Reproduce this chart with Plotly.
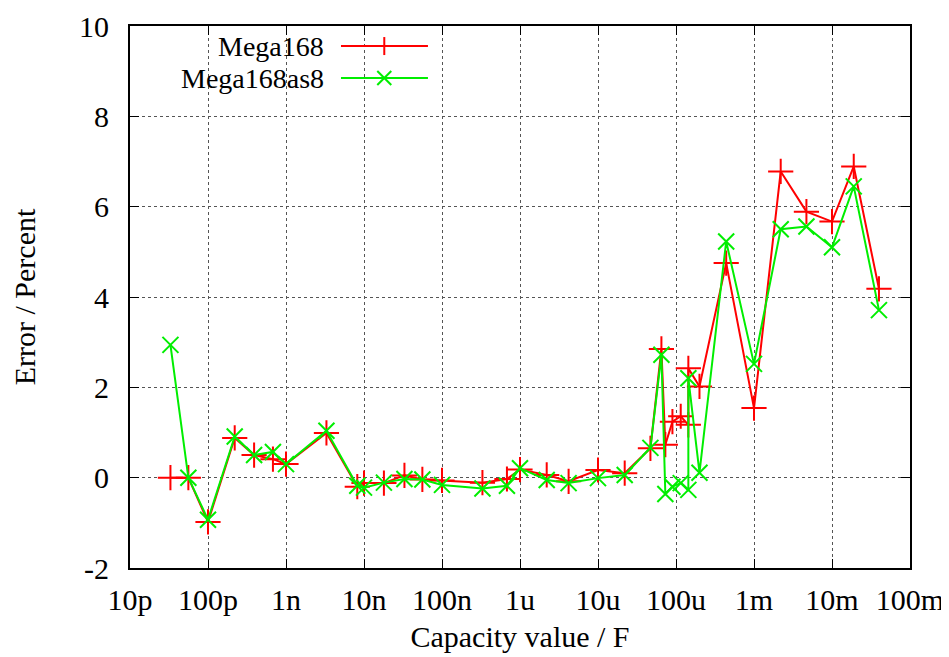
import plotly.graph_objects as go

# capacity values (F) and measured error (%)
capacity = [33e-12, 56e-12, 100e-12, 220e-12, 390e-12, 680e-12, 1e-9, 3.3e-9,
            8.2e-9, 10e-9, 18e-9, 33e-9, 56e-9, 100e-9, 330e-9, 680e-9, 1e-6,
            2.2e-6, 4.2e-6, 10e-6, 22e-6, 47e-6, 65e-6, 73e-6, 90e-6, 115e-6,
            144e-6, 144e-6, 200e-6, 440e-6, 1e-3, 2.2e-3, 4.7e-3, 10e-3, 19e-3, 40e-3]
mega168 = [0.0, 0.0, -0.98, 0.88, 0.50, 0.41, 0.30, 0.99,
           -0.20, -0.12, -0.12, 0.05, -0.04, -0.06, -0.11, -0.03, 0.18,
           0.06, -0.08, 0.17, 0.10, 0.65, 2.85, 0.73, 1.24, 1.36,
           1.17, 2.42, 2.02, 4.75, 1.54, 6.78, 5.89, 5.67, 6.89, 4.18]
mega168as8 = [2.94, 0.0, -0.93, 0.91, 0.50, 0.57, 0.30, 1.04,
              -0.18, -0.22, -0.11, -0.03, -0.04, -0.16, -0.24, -0.18, 0.21,
              -0.05, -0.12, -0.01, 0.06, 0.66, 2.72, -0.36, -0.20, -0.12,
              -0.27, 2.20, 0.11, 5.23, 2.52, 5.50, 5.56, 5.10, 6.45, 3.71]

x_tick_vals = [1e-11, 1e-10, 1e-9, 1e-8, 1e-7, 1e-6, 1e-5, 1e-4, 1e-3, 1e-2, 1e-1]
x_tick_text = ['10p', '100p', '1n', '10n', '100n', '1u', '10u', '100u', '1m', '10m', '100m']
y_tick_vals = [-2, 0, 2, 4, 6, 8, 10]
y_tick_text = ['-2', '0', '2', '4', '6', '8', '10']

RED = '#ff0000'
GREEN = '#00ee00'
FONT = 'Liberation Serif'
FSIZE = 30

fig = go.Figure()
fig.add_trace(go.Scatter(
    x=capacity, y=mega168, mode='lines+markers', name='Mega168',
    line=dict(color=RED, width=2),
    marker=dict(symbol='cross-thin-open', size=18, line=dict(color=RED, width=2))
))
fig.add_trace(go.Scatter(
    x=capacity, y=mega168as8, mode='lines+markers', name='Mega168as8',
    line=dict(color=GREEN, width=2),
    marker=dict(symbol='x-thin-open', size=16, line=dict(color=GREEN, width=2))
))

axis_common = dict(
    showline=True, linecolor='black', linewidth=2, mirror='allticks',
    ticks='inside', ticklen=9, tickwidth=1, tickcolor='black',
    showgrid=True, gridcolor='#555555', griddash='dot', gridwidth=1,
    zeroline=False, automargin=False,
    tickfont=dict(family=FONT, size=FSIZE, color='black'),
)
fig.update_xaxes(type='log', range=[-11, -1], tickvals=x_tick_vals, ticktext=x_tick_text,
                 ticklabelstandoff=4,
                 title=dict(text='Capacity value / F', font=dict(family=FONT, size=FSIZE, color='black'),
                            standoff=11),
                 **axis_common)
fig.update_yaxes(range=[-2, 10], tickvals=y_tick_vals, ticktext=y_tick_text,
                 ticklabelstandoff=13,
                 title=dict(text='Error / Percent', font=dict(family=FONT, size=FSIZE, color='black'),
                            standoff=35),
                 **axis_common)

# legend drawn like gnuplot: text right-aligned, key sample to its right
legend_rows = [('Mega168', RED, 'plus', 0.963), ('Mega168as8', GREEN, 'x', 0.904)]
shapes = []
annotations = []
px_x = 1 / 780
px_y = 1 / 542
for label, color, sym, ypos in legend_rows:
    annotations.append(dict(x=0.251, y=ypos, xref='paper', yref='paper', text=label,
                            showarrow=False, xanchor='right', yanchor='middle',
                            font=dict(family=FONT, size=28, color='black')))
    shapes.append(dict(type='line', xref='paper', yref='paper', x0=0.2705, x1=0.382,
                       y0=ypos, y1=ypos, line=dict(color=color, width=2)))
    cx = 0.326
    if sym == 'plus':
        shapes.append(dict(type='line', xref='paper', yref='paper', x0=cx, x1=cx,
                           y0=ypos - 9 * px_y, y1=ypos + 9 * px_y, line=dict(color=color, width=2)))
    else:
        d = 7
        shapes.append(dict(type='line', xref='paper', yref='paper', x0=cx - d * px_x, x1=cx + d * px_x,
                           y0=ypos - d * px_y, y1=ypos + d * px_y, line=dict(color=color, width=2)))
        shapes.append(dict(type='line', xref='paper', yref='paper', x0=cx - d * px_x, x1=cx + d * px_x,
                           y0=ypos + d * px_y, y1=ypos - d * px_y, line=dict(color=color, width=2)))

# page body adds an 8px margin, so the figure is 8px smaller on each axis
fig.update_layout(
    width=941, height=649,
    margin=dict(l=122, r=39, t=18, b=89),
    paper_bgcolor='white', plot_bgcolor='white',
    showlegend=False,
    shapes=shapes, annotations=annotations,
    font=dict(family=FONT, color='black'),
)

fig.write_html('out.html')
